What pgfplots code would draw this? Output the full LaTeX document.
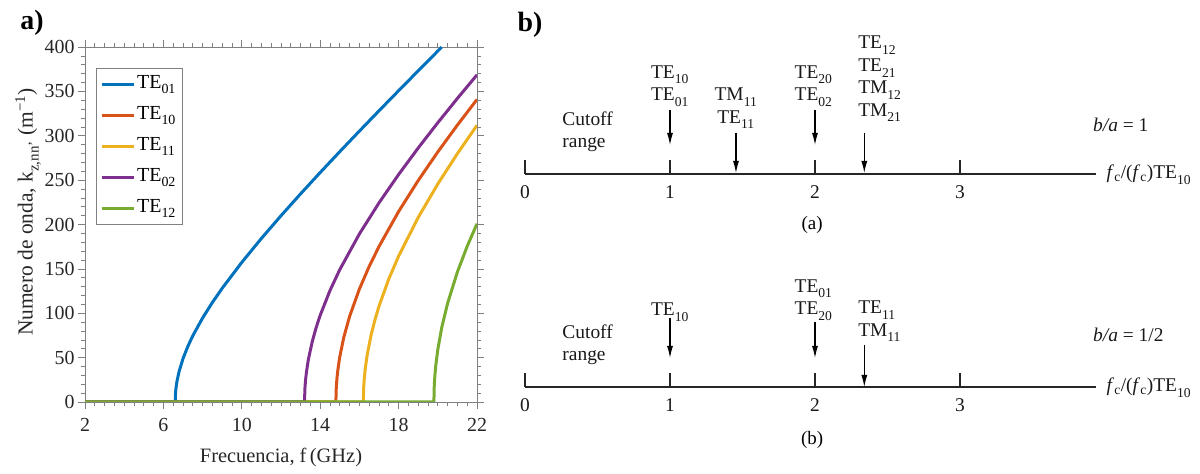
\documentclass[border=0pt]{standalone}
\usepackage{fontspec}
\setmainfont{Liberation Serif}
\usepackage{pgfplots}
\pgfplotsset{compat=1.18}
\usetikzlibrary{arrows.meta}

\definecolor{mblue}{rgb}{0,0.447,0.741}
\definecolor{morange}{rgb}{0.85,0.325,0.098}
\definecolor{myellow}{rgb}{0.929,0.694,0.125}
\definecolor{mpurple}{rgb}{0.494,0.184,0.556}
\definecolor{mgreen}{rgb}{0.466,0.674,0.188}

% mode indices set low, as in the printed figure
\newcommand\sub[1]{\raisebox{-0.3ex}{\textsubscript{#1}}}

\tikzset{dlab/.style={font=\fontsize{19.5}{22.5}\selectfont, text=black!90}}

% propagation constant k_z (1/m) against frequency (GHz)
\pgfplotstableread{
x y
2 0
6.6 0
6.62 10.77
6.65 17.05
6.7 24.15
6.8 34.29
7.0 48.85
7.25 62.84
7.5 74.61
8 94.69
8.5 112.18
9 128.15
10 157.35
11 184.31
12 209.90
13 234.57
14 258.59
15 282.12
16 305.27
17 328.13
18 350.74
19 373.16
20 395.43
20.2 399.85
}\teOone
\pgfplotstableread{
x y
2 0
14.8 0
14.82 16.12
14.85 25.50
14.9 36.09
15 51.13
15.2 72.55
15.5 96.46
16 127.33
16.5 152.78
17 175.18
18 214.58
19 249.55
20 281.75
21 312.03
22 340.92
}\teIzero
\pgfplotstableread{
x y
2 0
16.2 0
16.22 16.87
16.25 26.68
16.3 37.76
16.4 53.48
16.6 75.86
16.8 93.20
17 107.94
17.5 138.63
18 164.33
19 207.93
20 245.65
21 279.87
22 311.75
}\teIone
\pgfplotstableread{
x y
2 0
13.2 0
13.22 15.22
13.25 24.09
13.3 34.09
13.4 48.31
13.6 68.57
13.8 84.30
14 97.70
14.5 125.68
15 149.22
16 189.38
17 224.37
18 256.31
19 286.22
20 314.69
21 342.08
22 368.62
}\teOtwo
\pgfplotstableread{
x y
2 0
19.8 0
19.82 18.64
19.85 29.49
19.9 41.73
20 59.09
20.2 83.78
20.5 111.24
21 146.55
21.5 175.49
22 200.85
}\teItwo

% normalized cutoff diagram: tick marks and mode arrows
\pgfplotstableread{
x y v
0 300 14
1 300 14
2 300 14
3 300 14
0 87 14
1 87 14
2 87 14
3 87 14
}\difticks
\pgfplotstableread{
x y v
1 364 -35
1.455 341 -40
2 364 -35
2.34 341 -40
1 156 -40
2 152 -36
2.34 129 -42
}\difarrows

\begin{document}
\begin{tikzpicture}
\useasboundingbox (0,0) rectangle (1200bp,474bp);

\node[font=\fontsize{28}{28}\selectfont\bfseries] at (32bp,451bp) {a)};
\node[font=\fontsize{28}{28}\selectfont\bfseries] at (530bp,449bp) {b)};

\begin{axis}[
  at={(85bp,72bp)}, anchor=south west,
  scale only axis, width=392bp, height=355bp,
  xmin=2, xmax=22, ymin=0, ymax=400,
  xtick={2,6,...,22}, ytick={0,50,...,400},
  minor x tick num=7, minor y tick num=4,
  tick align=outside, tick pos=both,
  major tick length=7bp, minor tick length=4bp,
  axis line style={gray, line width=0.8bp},
  tick style={gray, line width=0.7bp},
  /pgf/number format/assume math mode=true,
  ticklabel style={font=\fontsize{20}{22}\selectfont, text=black!85},
  xticklabel style={yshift=-6bp},
  xlabel={Frecuencia, f\,(GHz)},
  ylabel={Numero de onda, k\sub{z,nn'} (m\textsuperscript{−1})},
  label style={font=\fontsize{20.5}{23}\selectfont, text=black!85},
  ylabel style={font=\fontsize{21.5}{24}\selectfont,
    at={(axis description cs:-0.145,0.535)}, anchor=center},
  xlabel style={at={(axis description cs:0.5,-0.155)}, anchor=center},
  legend style={at={(0.028,0.941)}, anchor=north west, draw=gray,
    font=\fontsize{20}{24}\selectfont, row sep=7bp,
    inner xsep=4bp, inner ysep=4bp,
    nodes={text height=14bp, text depth=6bp, inner sep=2bp}},
  legend cell align=left,
  legend image code/.code={\draw[#1, line width=3bp] (0bp,0bp) -- (32bp,0bp);},
  every axis plot/.append style={line width=3bp},
]
\addplot[mblue] table {\teOone};
\addplot[morange] table {\teIzero};
\addplot[myellow] table {\teIone};
\addplot[mpurple] table {\teOtwo};
\addplot[mgreen] table {\teItwo};
\legend{TE\sub{01},TE\sub{10},TE\sub{11},TE\sub{02},TE\sub{12}}
\end{axis}

\begin{axis}[
  at={(525bp,0bp)}, anchor=south west,
  scale only axis, width=580bp, height=474bp,
  xmin=0, xmax=4, ymin=0, ymax=474,
  axis lines=none, clip=false,
]
% axes of the two diagrams
\addplot[black!85, line width=1.3bp] coordinates {(0,300) (3.94,300)};
\addplot[black!85, line width=1.3bp] coordinates {(0,87) (3.94,87)};
\addplot[black!85, line width=1.1bp, quiver={u=0, v=\thisrow{v}}, -] table[x=x, y=y] {\difticks};
\addplot[black, line width=1.1bp, quiver={u=0, v=\thisrow{v}},
  -{Latex[length=12bp, width=6bp]}] table[x=x, y=y] {\difarrows};

% upper diagram, b/a = 1
\node[dlab, align=left, anchor=west] at (axis cs:0.234,342.5) {Cutoff\\range};
\node[dlab, align=center] at (axis cs:1,388) {TE\sub{10}\\TE\sub{01}};
\node[dlab, align=center] at (axis cs:1.455,365.5) {TM\sub{11}\\TE\sub{11}};
\node[dlab, align=center] at (axis cs:1.99,388) {TE\sub{20}\\TE\sub{02}};
\node[dlab, align=left, anchor=west, inner xsep=0pt] at (axis cs:2.297,395)
  {TE\sub{12}\\TE\sub{21}\\TM\sub{12}\\TM\sub{21}};
\node[dlab, anchor=west, inner xsep=0pt] at (axis cs:3.917,349) {\textit{b/a} = 1};
\node[dlab, anchor=west, inner xsep=0pt] at (axis cs:4.01,299) {\textit{f}\textsubscript{c}/(\textit{f}\textsubscript{c})TE\sub{10}};
\node[dlab] at (axis cs:0,282) {0};
\node[dlab] at (axis cs:1,282) {1};
\node[dlab] at (axis cs:2,282) {2};
\node[dlab] at (axis cs:3,282) {3};
\node[font=\fontsize{19}{21}\selectfont] at (axis cs:1.98,249) {(a)};

% lower diagram, b/a = 1/2
\node[dlab, align=left, anchor=west] at (axis cs:0.234,129) {Cutoff\\range};
\node[dlab] at (axis cs:1,162) {TE\sub{10}};
\node[dlab, align=center] at (axis cs:1.99,174) {TE\sub{01}\\TE\sub{20}};
\node[dlab, align=left, anchor=west, inner xsep=0pt] at (axis cs:2.297,152.5) {TE\sub{11}\\TM\sub{11}};
\node[dlab, anchor=west, inner xsep=0pt] at (axis cs:3.917,139) {\textit{b/a} = 1/2};
\node[dlab, anchor=west, inner xsep=0pt] at (axis cs:4.01,86) {\textit{f}\textsubscript{c}/(\textit{f}\textsubscript{c})TE\sub{10}};
\node[dlab] at (axis cs:0,69) {0};
\node[dlab] at (axis cs:1,69) {1};
\node[dlab] at (axis cs:2,69) {2};
\node[dlab] at (axis cs:3,69) {3};
\node[font=\fontsize{19}{21}\selectfont] at (axis cs:1.98,34) {(b)};
\end{axis}
\end{tikzpicture}
\end{document}
